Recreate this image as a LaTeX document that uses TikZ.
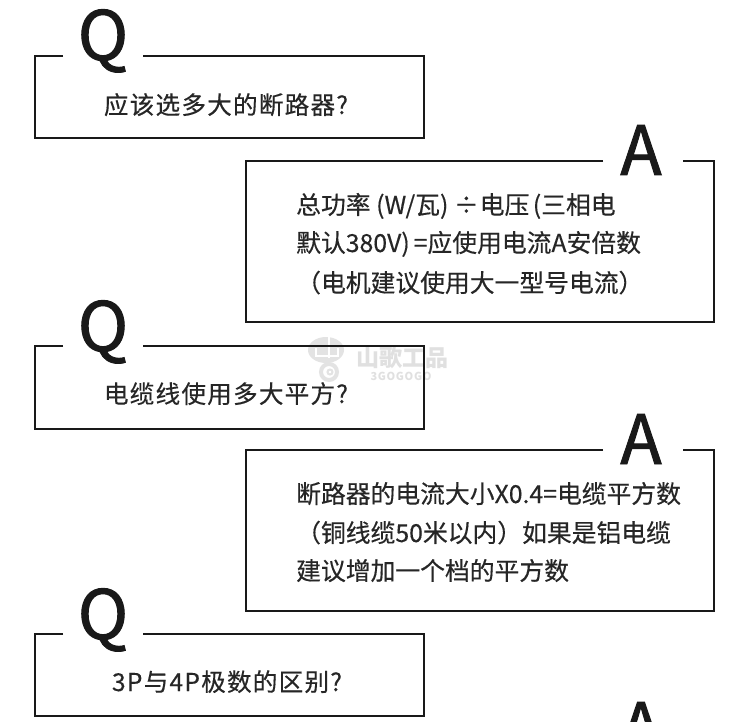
\documentclass[tikz,border=0pt]{standalone}
\usepackage{fontspec}
\setmainfont{Noto Sans CJK SC}
\newfontfamily\letterfont[FakeBold=1.4]{Noto Sans CJK SC}
\newfontfamily\linefont[FakeBold=0.35]{Noto Sans CJK SC}
\tikzset{>=stealth}
\tikzset{
  boxline/.style={line width=2.6pt,black!90},
  bigletter/.style={font=\letterfont\fontsize{68}{68}\selectfont,inner sep=0pt,text=black!90,anchor=base,text height=40pt,text depth=12pt},
  bodytext/.style={font=\linefont\fontsize{24.8}{24.8}\selectfont,inner sep=0pt,text=black!85,anchor=base west},
  asktext/.style={font=\linefont\fontsize{24.6}{24.6}\selectfont\addfontfeature{LetterSpace=5},inner sep=0pt,text=black!85,anchor=base},
  markpart/.style={black!11}
}
\begin{document}
\begin{tikzpicture}[x=1pt,y=-1pt]
  \useasboundingbox (0,0) rectangle (750,722);
  \fill[white] (0,0) rectangle (750,722);

  % watermark
  \fill[markpart] (326,350) ellipse (18pt and 13pt);
  \draw[white,line width=2pt] (329,337)--(329,358);
  \draw[white,line width=2pt] (316,348)--(316,356)--(338,356)--(338,348);
  \draw[markpart,line width=4pt] (329,372) circle (8pt);
  \draw[markpart,line width=2pt] (330,372) circle (2.5pt);
  \node[font=\bfseries\fontsize{23}{23}\selectfont,text=black!12,inner sep=0pt] (markname) at (402,358) {山歌工品};
  \node[font=\bfseries\fontsize{11}{11}\selectfont\addfontfeature{LetterSpace=6},text=black!12,inner sep=0pt] (markcode) at (401,376) {3GOGOGO};

  % question boxes
  \foreach \t/\b/\n in {56/138/a, 346/429/b, 634/716/c} {
    \draw[boxline] (63,\t)--(35,\t)--(35,\b)--(424,\b)--(424,\t)--(143,\t);
  }
  % answer boxes
  \foreach \t/\b/\n in {161/322/a, 450/611/b} {
    \draw[boxline] (603,\t)--(246,\t)--(246,\b)--(714,\b)--(714,\t)--(683,\t);
  }

  % letters
  \node[bigletter] (q1) at (103,60) {Q};
  \node[bigletter] (q2) at (103,351) {Q};
  \node[bigletter] (q3) at (103,639) {Q};
  \node[bigletter] (a1) at (641,175) {A};
  \node[bigletter] (a2) at (641,464) {A};
  \node[bigletter] (a3) at (641,752) {A};

  % first pair
  \node[asktext] (ask1) at (226,114) {应该选多大的断路器?};
  \node[bodytext] (ans1a) at (296,214) {总功率 (W/瓦) ÷\kern1pt电压\kern3.5pt(三相电};
  \node[bodytext] (ans1b) at (296,252) {默认380V)\kern4pt=应使用电流A安倍数};
  \node[bodytext] (ans1c) at (296,292) {（电机建议使用大一型号电流）};

  % second pair
  \node[asktext] (ask2) at (226,403) {电缆线使用多大平方?};
  \node[bodytext] (ans2a) at (296,503) {断路器的电流大小X0.4=电缆平方数};
  \node[bodytext] (ans2b) at (296,542) {（铜线缆50米以内）如果是铝电缆};
  \node[bodytext] (ans2c) at (296,580) {建议增加一个档的平方数};

  % third question
  \node[asktext] (ask3) at (227,691) {3P与4P极数的区别?};
\end{tikzpicture}
\end{document}
